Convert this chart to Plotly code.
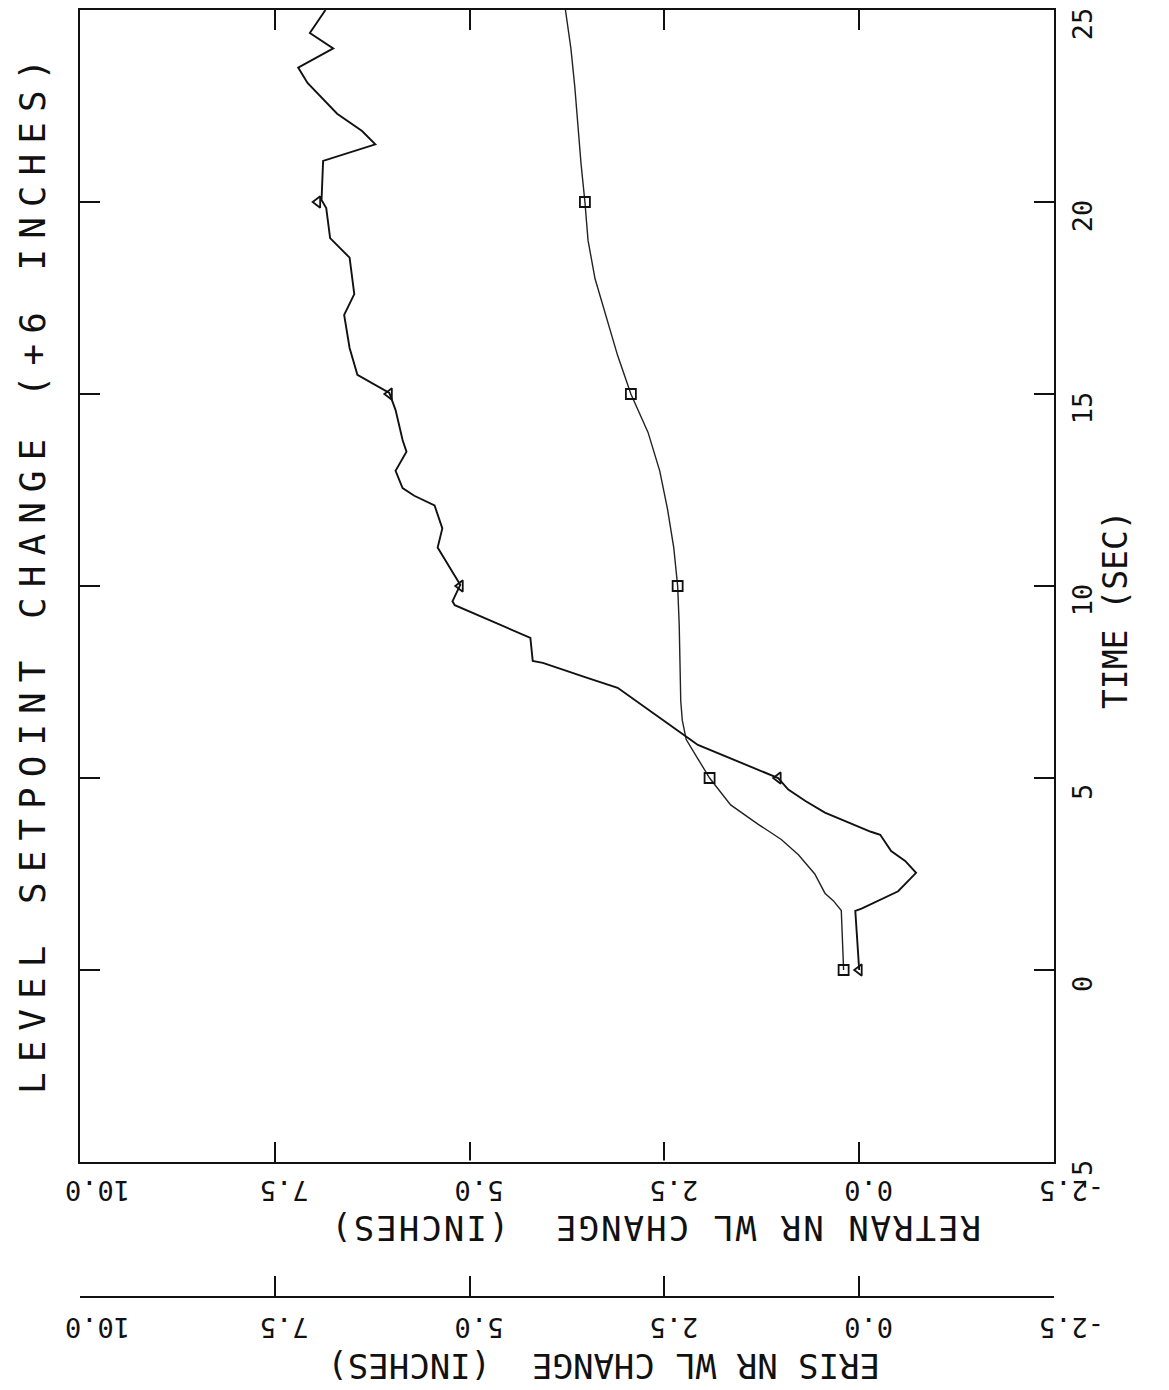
import plotly.graph_objects as go

# ---------------- data ----------------
# smooth curve with square/circle markers (RETRAN)
time_retran = [0.0, 1.55, 1.8, 2.0, 2.5, 3.0, 3.4, 3.8, 4.3, 5.0, 5.5, 6.0, 6.5, 7.0,
               8.0, 9.0, 10.0, 11.0, 12.0, 13.0, 14.0, 15.0, 16.0, 17.0, 18.0, 19.0,
               20.0, 21.0, 22.0, 23.0, 24.0, 25.0]
val_retran = [0.20, 0.23, 0.33, 0.44, 0.57, 0.78, 1.00, 1.30, 1.65, 1.92, 2.07, 2.22, 2.27, 2.29,
              2.30, 2.31, 2.33, 2.38, 2.46, 2.56, 2.71, 2.93, 3.10, 3.25, 3.39, 3.48,
              3.52, 3.57, 3.61, 3.65, 3.70, 3.77]

# jagged curve with triangle markers (ERIS)
time_eris = [0.0, 1.54, 1.6, 2.05, 2.53, 2.84, 3.1, 3.52, 3.6, 3.88, 4.1, 4.4, 4.7, 5.0,
             5.86, 6.05, 6.7, 7.35, 7.6, 8.0, 8.05, 8.65, 9.5, 9.6, 10.03, 11.0, 11.5,
             12.1, 12.35, 12.55, 13.0, 13.5, 13.8, 14.58, 15.03, 15.5, 16.2, 17.06, 17.6,
             18.55, 19.06, 19.84, 20.05, 21.07, 21.5, 21.85, 22.3, 23.1, 23.5, 24.0, 24.4,
             25.0]
val_eris = [0.00, 0.05, -0.03, -0.50, -0.73, -0.59, -0.41, -0.27, -0.15, 0.18, 0.44, 0.69, 0.91, 1.04,
            2.07, 2.20, 2.65, 3.10, 3.48, 4.06, 4.19, 4.22, 5.19, 5.22, 5.12, 5.41, 5.35,
            5.45, 5.71, 5.86, 5.95, 5.81, 5.86, 5.95, 6.03, 6.44, 6.54, 6.61, 6.48,
            6.54, 6.79, 6.84, 6.90, 6.88, 6.21, 6.38, 6.70, 7.08, 7.20, 6.75, 7.05,
            6.85]

marker_times = [0, 5, 10, 15, 20]
retran_marker_vals = [0.20, 1.92, 2.33, 2.93, 3.52]
eris_marker_vals = [0.00, 1.04, 5.12, 6.03, 6.95]

value_ticks = [-2.5, 0.0, 2.5, 5.0, 7.5, 10.0]
value_tick_text = ["-2.5", "0.0", "2.5", "5.0", "7.5", "10.0"]
time_ticks = [-5, 0, 5, 10, 15, 20, 25]
time_tick_text = ["-5", "0", "5", "10", "15", "20", "25"]

title_text = "LEVEL SETPOINT CHANGE (+6 INCHES)"
time_label = "TIME (SEC)"
retran_label = "RETRAN NR WL CHANGE  (INCHES)"
eris_label = "ERIS NR WL CHANGE  (INCHES)"

# ---------------- figure ----------------
W, H = 1169, 1390
OFF = 8                                # page body margin of the browser
PL, PR, PT, PB = 80, 1054, 10, 1297    # paper area in screen pixels
PLOT_BOTTOM = 1162                     # bottom of the plotting box (screen px)

FONT = "DejaVu Sans Mono, Liberation Mono, monospace"
INK = "#111111"


def px_x(px):
    return (px - PL) / (PR - PL)


def px_y(py):
    return (PB - py) / (PB - PT)


fig = go.Figure()

fig.add_trace(go.Scatter(x=val_retran, y=time_retran, mode="lines",
                         line=dict(color="#222222", width=1.4),
                         xaxis="x", yaxis="y", showlegend=False, hoverinfo="skip"))
fig.add_trace(go.Scatter(x=val_eris, y=time_eris, mode="lines",
                         line=dict(color=INK, width=1.9),
                         xaxis="x2", yaxis="y", showlegend=False, hoverinfo="skip"))
fig.add_trace(go.Scatter(x=retran_marker_vals, y=marker_times, mode="markers",
                         marker=dict(symbol="square-open", size=10, color=INK,
                                     line=dict(width=1.8, color=INK)),
                         xaxis="x", yaxis="y", showlegend=False, hoverinfo="skip"))
fig.add_trace(go.Scatter(x=eris_marker_vals, y=marker_times, mode="markers",
                         marker=dict(symbol="triangle-left-open", size=10, color=INK,
                                     line=dict(width=1.8, color=INK)),
                         xaxis="x2", yaxis="y", showlegend=False, hoverinfo="skip"))

axis_common = dict(
    range=[10, -2.5], tickvals=value_ticks, ticktext=value_tick_text,
    showgrid=False, zeroline=False, showline=True, linecolor=INK, linewidth=2,
    ticks="inside", ticklen=20, tickwidth=2, tickcolor=INK,
    tickangle=180, tickfont=dict(family=FONT, size=27, color=INK),
    ticklabelshift=15, ticklabeloverflow="allow", automargin=False,
)

fig.update_layout(
    width=W, height=H,
    margin=dict(l=PL - OFF, r=W - (PR - OFF), t=PT - OFF, b=H - (PB - OFF), pad=0,
                autoexpand=False),
    paper_bgcolor="white", plot_bgcolor="white",
    xaxis=dict(**axis_common, anchor="y", mirror="ticks", domain=[0, 1],
               ticklabelstandoff=12),
    xaxis2=dict(**axis_common, anchor="free", position=0, overlaying="x",
                side="bottom", ticklabelstandoff=15),
    yaxis=dict(range=[-5, 25], tickvals=time_ticks, ticktext=time_tick_text,
               domain=[px_y(PLOT_BOTTOM), 1], side="right",
               showgrid=False, zeroline=False, showline=True, linecolor=INK, linewidth=2,
               mirror="ticks", ticks="inside", ticklen=20, tickwidth=2, tickcolor=INK,
               tickangle=-90, tickfont=dict(family=FONT, size=27, color=INK),
               ticklabelstandoff=4, ticklabelshift=18, ticklabeloverflow="allow",
               automargin=False),
    shapes=[
        # small breaks in the bottom frame line, as in the scanned original
        dict(type="line", xref="paper", yref="y", x0=0.005, x1=0.995, y0=-5, y1=-5,
             line=dict(color="white", width=3, dash="5px,19px"), layer="above"),
    ],
    annotations=[
        dict(text=f'<span style="letter-spacing:10px">{title_text}</span>',
             xref="paper", yref="paper", x=px_x(32), y=px_y(572),
             textangle=-90, showarrow=False, xanchor="center", yanchor="middle",
             font=dict(family=FONT, size=36, color=INK)),
        dict(text=time_label, xref="paper", yref="paper", x=px_x(1115), y=px_y(610),
             textangle=-90, showarrow=False, xanchor="center", yanchor="middle",
             font=dict(family=FONT, size=33, color=INK)),
        dict(text=f'<span style="letter-spacing:2px">{retran_label}</span>',
             xref="paper", yref="paper", x=px_x(655), y=px_y(1228),
             textangle=180, showarrow=False, xanchor="center", yanchor="middle",
             font=dict(family=FONT, size=34, color=INK)),
        dict(text=eris_label, xref="paper", yref="paper", x=px_x(604), y=px_y(1366),
             textangle=180, showarrow=False, xanchor="center", yanchor="middle",
             font=dict(family=FONT, size=34, color=INK)),
    ],
)

fig.write_html("out.html")
